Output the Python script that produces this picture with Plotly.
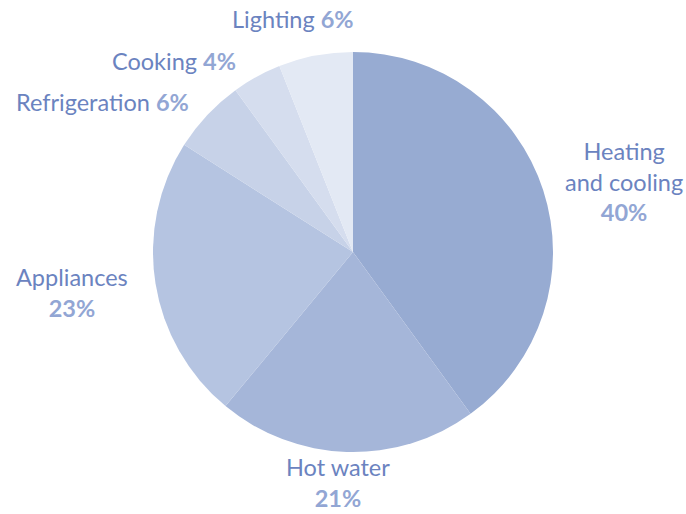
import plotly.graph_objects as go

categories = ["Heating and cooling", "Hot water", "Appliances", "Refrigeration", "Cooking", "Lighting"]
label_lines = ["Heating<br>and cooling<br>", "Hot water<br>", "Appliances<br>", "Refrigeration ", "Cooking ", "Lighting "]
values = [40, 21, 23, 6, 4, 6]
colors = ["#97abd2", "#a5b6d9", "#b5c4e1", "#c7d2e8", "#d5ddee", "#e3e9f4"]
# label centres in pixels (x, y of the text block centre)
label_px = [(624, 182), (338, 483), (72, 292), (102, 102), (174, 61), (293, 19)]

W, H = 686, 514
ML, MR, MT, MB = 20, 0, 52, 62

fig = go.Figure(go.Pie(
    labels=categories, values=values, sort=False, direction="clockwise",
    rotation=0, marker=dict(colors=colors, line=dict(width=0)),
    textinfo="none", hoverinfo="label+percent", showlegend=False,
))

text_color = "#6b83c0"
pct_color = "#92a6d4"
for lab, v, (px, py) in zip(label_lines, values, label_px):
    fig.add_annotation(
        x=(px - ML) / (W - ML - MR), y=(H - MB - py) / (H - MT - MB),
        xref="paper", yref="paper", xanchor="center", yanchor="middle",
        text=f"{lab}<b><span style='color:{pct_color}'>{v}%</span></b>",
        showarrow=False, align="center",
        font=dict(family="Lato", size=23.5, color=text_color),
    )

fig.update_layout(
    width=W, height=H, margin=dict(l=ML, r=MR, t=MT, b=MB),
    paper_bgcolor="white", plot_bgcolor="white",
)
fig.write_html("out.html")
